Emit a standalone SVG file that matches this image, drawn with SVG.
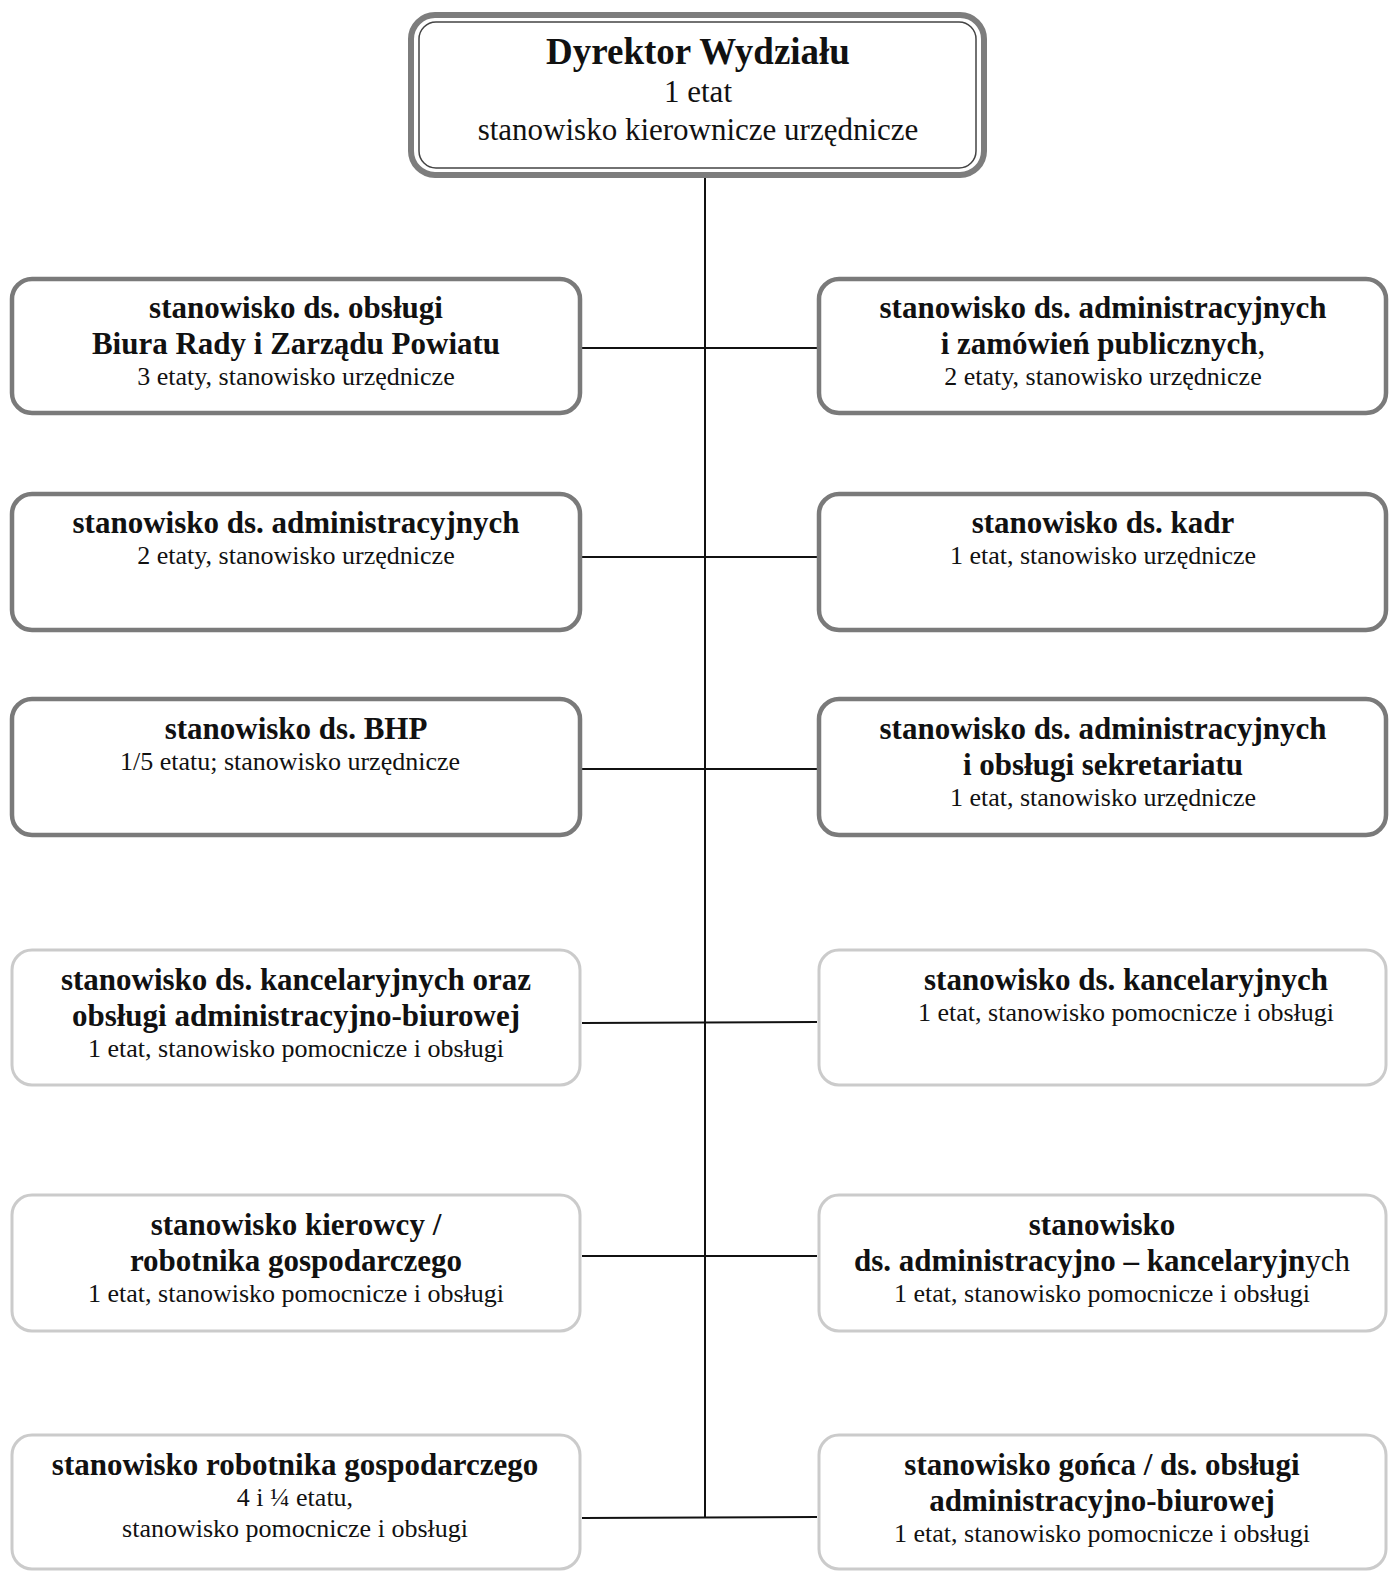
<svg xmlns="http://www.w3.org/2000/svg" width="1392" height="1573" viewBox="0 0 1392 1573">
<style>
text{font-family:"Liberation Serif","Times New Roman",serif;fill:#111;text-anchor:middle}
.b{font-weight:bold;font-size:31px}
.r{font-size:26px}
.n{font-weight:normal}
.dark{fill:#fff;stroke:#7a7a7a;stroke-width:4.5}
.light{fill:#fff;stroke:#cbcbcb;stroke-width:3}
.conn{stroke:#111;stroke-width:2;fill:none}
</style>
<rect width="1392" height="1573" fill="#fff"/>
<g id="connectors">
<line class="conn" x1="705" y1="170" x2="705" y2="1518"/>
<line class="conn" x1="582" y1="348" x2="817" y2="348"/>
<line class="conn" x1="582" y1="557" x2="817" y2="557"/>
<line class="conn" x1="582" y1="769" x2="817" y2="769"/>
<line class="conn" x1="582" y1="1023" x2="817" y2="1022"/>
<line class="conn" x1="582" y1="1256" x2="817" y2="1256"/>
<line class="conn" x1="582" y1="1518" x2="817" y2="1517"/>
</g>
<g id="dyrektor">
<rect x="411" y="15" width="573" height="160" rx="24" fill="#fff" stroke="#7d7d7d" stroke-width="6"/>
<rect x="419" y="22" width="557" height="146" rx="17" fill="#fff" stroke="#444" stroke-width="1.5"/>
<text x="698" y="64" style="font-weight:bold;font-size:37px">Dyrektor Wydziału</text>
<text x="698" y="102" style="font-size:31px">1 etat</text>
<text x="698" y="140" style="font-size:31px">stanowisko kierownicze urzędnicze</text>
</g>
<g id="biuro-rady">
<rect class="dark" x="12" y="279" width="568" height="134" rx="20"/>
<text class="b" x="296" y="318">stanowisko ds. obsługi</text>
<text class="b" x="296" y="354">Biura Rady i Zarządu Powiatu</text>
<text class="r" x="296" y="385">3 etaty, stanowisko urzędnicze</text>
</g>
<g id="zamowienia">
<rect class="dark" x="819" y="279" width="567" height="134" rx="20"/>
<text class="b" x="1103" y="318">stanowisko ds. administracyjnych</text>
<text class="b" x="1103" y="354">i zamówień publicznych<tspan class="n">,</tspan></text>
<text class="r" x="1103" y="385">2 etaty, stanowisko urzędnicze</text>
</g>
<g id="administracyjne">
<rect class="dark" x="12" y="494" width="568" height="136" rx="20"/>
<text class="b" x="296" y="533">stanowisko ds. administracyjnych</text>
<text class="r" x="296" y="564">2 etaty, stanowisko urzędnicze</text>
</g>
<g id="kadry">
<rect class="dark" x="819" y="494" width="567" height="136" rx="20"/>
<text class="b" x="1103" y="533">stanowisko ds. kadr</text>
<text class="r" x="1103" y="564">1 etat, stanowisko urzędnicze</text>
</g>
<g id="bhp">
<rect class="dark" x="12" y="699" width="568" height="136" rx="20"/>
<text class="b" x="296" y="739">stanowisko ds. BHP</text>
<text class="r" x="290" y="770">1/5 etatu; stanowisko urzędnicze</text>
</g>
<g id="sekretariat">
<rect class="dark" x="819" y="699" width="567" height="136" rx="20"/>
<text class="b" x="1103" y="739">stanowisko ds. administracyjnych</text>
<text class="b" x="1103" y="775">i obsługi sekretariatu</text>
<text class="r" x="1103" y="806">1 etat, stanowisko urzędnicze</text>
</g>
<g id="kancelaryjne-biurowe">
<rect class="light" x="12" y="950" width="568" height="135" rx="20"/>
<text class="b" x="296" y="990">stanowisko ds. kancelaryjnych oraz</text>
<text class="b" x="296" y="1026">obsługi administracyjno-biurowej</text>
<text class="r" x="296" y="1057">1 etat, stanowisko pomocnicze i obsługi</text>
</g>
<g id="kancelaryjne">
<rect class="light" x="819" y="950" width="567" height="135" rx="20"/>
<text class="b" x="1126" y="990">stanowisko ds. kancelaryjnych</text>
<text class="r" x="1126" y="1021">1 etat, stanowisko pomocnicze i obsługi</text>
</g>
<g id="kierowca">
<rect class="light" x="12" y="1195" width="568" height="136" rx="20"/>
<text class="b" x="296" y="1235">stanowisko kierowcy /</text>
<text class="b" x="296" y="1271">robotnika gospodarczego</text>
<text class="r" x="296" y="1302">1 etat, stanowisko pomocnicze i obsługi</text>
</g>
<g id="administracyjno-kancelaryjne">
<rect class="light" x="819" y="1195" width="567" height="136" rx="20"/>
<text class="b" x="1102" y="1235">stanowisko</text>
<text class="b" x="1102" y="1271">ds. administracyjno – kancelaryjn<tspan class="n">ych</tspan></text>
<text class="r" x="1102" y="1302">1 etat, stanowisko pomocnicze i obsługi</text>
</g>
<g id="robotnik">
<rect class="light" x="12" y="1435" width="568" height="134" rx="20"/>
<text class="b" x="295" y="1475">stanowisko robotnika gospodarczego</text>
<text class="r" x="295" y="1506">4 i ¼ etatu,</text>
<text class="r" x="295" y="1537">stanowisko pomocnicze i obsługi</text>
</g>
<g id="goniec">
<rect class="light" x="819" y="1435" width="567" height="134" rx="20"/>
<text class="b" x="1102" y="1475">stanowisko gońca / ds. obsługi</text>
<text class="b" x="1102" y="1511">administracyjno-biurowej</text>
<text class="r" x="1102" y="1542">1 etat, stanowisko pomocnicze i obsługi</text>
</g>
</svg>
